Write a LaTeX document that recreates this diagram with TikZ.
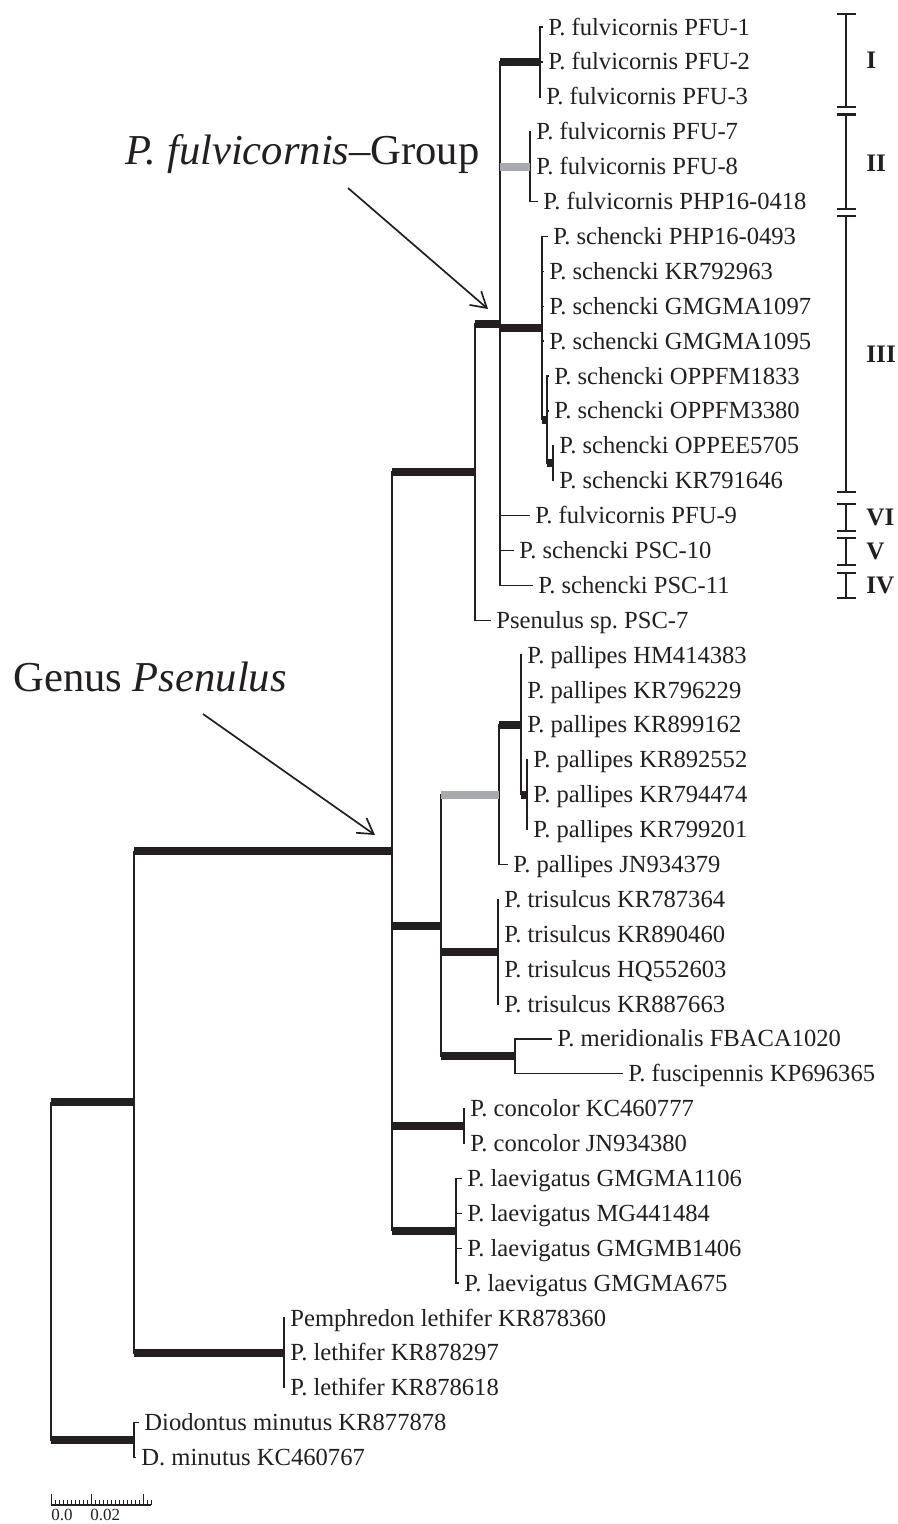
\documentclass[tikz,border=0pt]{standalone}
\usepackage{fontspec}
\setmainfont{Liberation Serif}
\usepackage{xcolor}
\usepackage{tikz}
\usetikzlibrary{arrows.meta}
\definecolor{treeblack}{HTML}{231F20}
\definecolor{treegrey}{HTML}{A7A9AC}
\newcommand{\taxfont}{\fontsize{12.3pt}{14pt}\selectfont}
\newcommand{\groupfont}{\fontsize{21.3pt}{25pt}\selectfont}
\frenchspacing

\begin{document}
\begin{tikzpicture}[x=0.5pt,y=-0.5pt,color=treeblack]
	\useasboundingbox (0,0) rectangle (898,1524);

	% inner nodes of the tree
	\coordinate (root) at (51,1271.2);
	\coordinate (ing) at (134,1102.2);
	\coordinate (dio) at (134,1440.2);
	\coordinate (leth) at (284,1352.9);
	\coordinate (gen) at (392,851.4);
	\coordinate (fA) at (475,472.0);
	\coordinate (fG) at (500,323.7);
	\coordinate (cI) at (540,62.0);
	\coordinate (cII) at (530,166.7);
	\coordinate (cIII) at (542,328.0);
	\coordinate (sch) at (547,419.6);
	\coordinate (sch2) at (553,463.2);
	\coordinate (pal0) at (441,925.6);
	\coordinate (pal) at (499,794.7);
	\coordinate (palA) at (521,724.9);
	\coordinate (palB) at (527,794.7);
	\coordinate (tri) at (498,951.7);
	\coordinate (mer) at (515,1056.4);
	\coordinate (con) at (464,1126.2);
	\coordinate (lae) at (456,1230.8);

	\begin{scope}[every node/.style={anchor=west,inner xsep=2.5pt,inner ysep=0pt,text height=8pt,text depth=0pt,font=\taxfont}]
		\node (fu1) at (543,27.1) {P. fulvicornis PFU-1};
		\node (fu2) at (543,62.0) {P. fulvicornis PFU-2};
		\node (fu3) at (541,96.9) {P. fulvicornis PFU-3};
		\node (fu7) at (531,131.8) {P. fulvicornis PFU-7};
		\node (fu8) at (531,166.7) {P. fulvicornis PFU-8};
		\node (fu418) at (538,201.6) {P. fulvicornis PHP16-0418};
		\node (sc493) at (548,236.4) {P. schencki PHP16-0493};
		\node (sc963) at (544,271.3) {P. schencki KR792963};
		\node (sc1097) at (544,306.2) {P. schencki GMGMA1097};
		\node (sc1095) at (544,341.1) {P. schencki GMGMA1095};
		\node (sc1833) at (549,376.0) {P. schencki OPPFM1833};
		\node (sc3380) at (549,410.9) {P. schencki OPPFM3380};
		\node (sc5705) at (554,445.8) {P. schencki OPPEE5705};
		\node (sc1646) at (554,480.7) {P. schencki KR791646};
		\node (fu9) at (530,515.6) {P. fulvicornis PFU-9};
		\node (sc10) at (514,550.5) {P. schencki PSC-10};
		\node (sc11) at (533,585.3) {P. schencki PSC-11};
		\node (ps7) at (491,620.2) {Psenulus sp. PSC-7};
		\node (pa383) at (522,655.1) {P. pallipes HM414383};
		\node (pa229) at (522,690.0) {P. pallipes KR796229};
		\node (pa162) at (522,724.9) {P. pallipes KR899162};
		\node (pa552) at (528,759.8) {P. pallipes KR892552};
		\node (pa474) at (528,794.7) {P. pallipes KR794474};
		\node (pa201) at (528,829.6) {P. pallipes KR799201};
		\node (pa379) at (508,864.5) {P. pallipes JN934379};
		\node (tr364) at (499,899.4) {P. trisulcus KR787364};
		\node (tr460) at (499,934.2) {P. trisulcus KR890460};
		\node (tr603) at (499,969.1) {P. trisulcus HQ552603};
		\node (tr663) at (499,1004.0) {P. trisulcus KR887663};
		\node (me) at (552,1038.9) {P. meridionalis FBACA1020};
		\node (fs) at (623,1073.8) {P. fuscipennis KP696365};
		\node (co777) at (465,1108.7) {P. concolor KC460777};
		\node (co380) at (465,1143.6) {P. concolor JN934380};
		\node (la1106) at (462,1178.5) {P. laevigatus GMGMA1106};
		\node (la484) at (462,1213.4) {P. laevigatus MG441484};
		\node (la1406) at (462,1248.3) {P. laevigatus GMGMB1406};
		\node (la675) at (459,1283.1) {P. laevigatus GMGMA675};
		\node (le360) at (285,1318.0) {Pemphredon lethifer KR878360};
		\node (le297) at (285,1352.9) {P. lethifer KR878297};
		\node (le618) at (285,1387.8) {P. lethifer KR878618};
		\node (di878) at (139,1422.7) {Diodontus minutus KR877878};
		\node (di767) at (136,1457.6) {D. minutus KC460767};
	\end{scope}

	% thin branches
	\begin{scope}[every edge/.style={draw=treeblack,line width=0.65pt,to path={|- (\tikztotarget)}}]
		\path (root) edge (ing) edge (dio);
		\path (ing) edge (gen) edge (leth);
		\path (dio) edge (di878.west) edge (di767.west);
		\path (leth) edge (le360.west) edge (le297.west) edge (le618.west);
		\path (gen) edge (fA) edge (pal0) edge (con) edge (lae);
		\path (fA) edge (fG) edge (ps7.west);
		\path (fG) edge (cI) edge (cII) edge (cIII) edge (fu9.west) edge (sc10.west) edge (sc11.west);
		\path (cI) edge (fu1.west) edge (fu2.west) edge (fu3.west);%I%
		\path (cII) edge (fu7.west) edge (fu8.west) edge (fu418.west);%II%
		\path (cIII) edge (sc493.west) edge (sc963.west) edge (sc1097.west) edge (sc1095.west) edge (sch);%III%
		\path (sch) edge (sc1833.west) edge (sc3380.west) edge (sch2);
		\path (sch2) edge (sc5705.west) edge (sc1646.west);
		\path (pal0) edge (pal) edge (tri) edge (mer);
		\path (pal) edge (palA) edge (pa379.west);
		\path (palA) edge (pa383.west) edge (pa229.west) edge (pa162.west) edge (palB);
		\path (palB) edge (pa552.west) edge (pa474.west) edge (pa201.west);
		\path (tri) edge (tr364.west) edge (tr460.west) edge (tr603.west) edge (tr663.west);
		\path (mer) edge (me.west) edge (fs.west);
		\path (con) edge (co777.west) edge (co380.west);
		\path (lae) edge (la1106.west) edge (la484.west) edge (la1406.west) edge (la675.west);
	\end{scope}

	% thick branches
	\begin{scope}[every edge/.style={draw=treeblack,line width=4pt,to path={-- (\tikztotarget)}}]
		\path (root |- ing) edge (ing);
		\path (root |- dio) edge (dio);
		\path (ing |- leth) edge (leth);
		\path (ing |- gen) edge (gen);
		\path (gen |- fA) edge (fA);
		\path (fA |- fG) edge (fG);
		\path (fG |- cI) edge (cI);
		\path (fG |- cII) edge [draw=treegrey] (cII);
		\path (fG |- cIII) edge (cIII);
		\path (cIII |- sch) edge (sch);
		\path (sch |- sch2) edge (sch2);
		\path (gen |- pal0) edge (pal0);
		\path (pal0 |- pal) edge [draw=treegrey] (pal);
		\path (pal |- palA) edge (palA);
		\path (palA |- palB) edge (palB);
		\path (pal0 |- tri) edge (tri);
		\path (pal0 |- mer) edge (mer);
		\path (gen |- con) edge (con);
		\path (gen |- lae) edge (lae);
	\end{scope}

	% group labels
	\node[anchor=base west,inner sep=0pt,font=\groupfont] (fglab) at (125,165) {\textit{P. fulvicornis}\textendash Group};
	\node[anchor=base west,inner sep=0pt,font=\groupfont] (gelab) at (13,691) {Genus \textit{Psenulus}};
	\coordinate (fgfrom) at (348,188);
	\coordinate (fgto) at (488,309);
	\coordinate (gefrom) at (203,714);
	\coordinate (geto) at (375,835);
	\begin{scope}[line width=0.85pt,-{Straight Barb[length=7.5pt,width=9pt]}]
		\draw (fgfrom) -- (fgto);
		\draw (gefrom) -- (geto);
	\end{scope}

	% clades I to VI
	\begin{scope}[line width=1.15pt,{Bar[width=9.5pt]}-{Bar[width=9.5pt]}]
		\draw (846,12.7) -- (846,108.3);
		\draw (846,113.3) -- (846,210);
		\draw (846,215) -- (846,493);
		\draw (846,503) -- (846,532);
		\draw (846,537) -- (846,566);
		\draw (846,572) -- (846,599);
	\end{scope}
	\begin{scope}[every node/.style={anchor=west,inner sep=0pt,text height=8.2pt,text depth=0pt,font=\fontsize{12.6pt}{14pt}\selectfont\bfseries}]
		\node (clI) at (866,60.5) {I};
		\node (clII) at (866,163) {II};
		\node (clIII) at (866,354) {III};
		\node (clVI) at (866,517.5) {VI};
		\node (clV) at (866,551.5) {V};
		\node (clIV) at (866,585.5) {IV};
	\end{scope}

	% scale bar
	\draw[line width=0.6pt] (51,1505) -- (151,1505);
	\foreach \k in {0,...,25}
		\draw[line width=0.5pt] (51+4*\k,1505) -- ++(0,-5);
	\draw[line width=0.5pt] (51,1505) -- ++(0,-11) (91,1505) -- ++(0,-11) (143,1505) -- ++(0,-11);
	\node[anchor=west,inner sep=0pt,font=\fontsize{8.5pt}{10pt}\selectfont] (sc0) at (51,1515) {0.0};
	\node[anchor=west,inner sep=0pt,font=\fontsize{8.5pt}{10pt}\selectfont] (sc2) at (90,1515) {0.02};
\end{tikzpicture}
\end{document}
